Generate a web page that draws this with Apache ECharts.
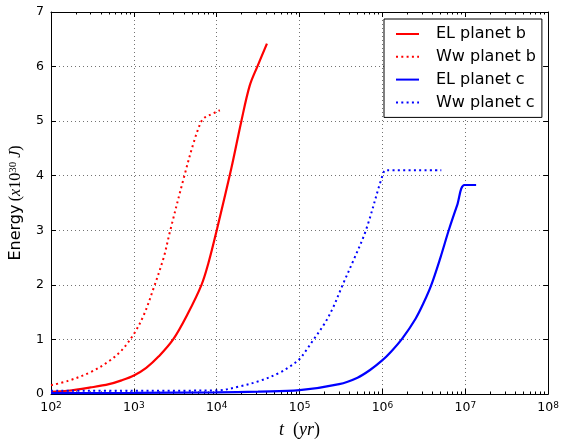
<!DOCTYPE html>
<html><head><meta charset="utf-8">
<script src="https://cdn.jsdelivr.net/npm/echarts@6/dist/echarts.min.js"></script>
<style>html,body{margin:0;padding:0;background:#fff}#c{width:562px;height:444px}</style>
</head><body><div id="c"></div>
<script>
// ---- data ----
const seriesNames = ['EL planet b', 'Ww planet b', 'EL planet c', 'Ww planet c'];

const elB_t = [100, 160, 300, 500, 710, 1000, 1410, 2000, 2980, 4470, 6550, 7940, 10000, 15030, 19820, 25000, 30900, 40360];
const elB_E = [0.04, 0.06, 0.12, 0.18, 0.25, 0.34, 0.48, 0.69, 1.00, 1.47, 2.00, 2.40, 3.00, 4.14, 5.00, 5.65, 6.00, 6.42];

const wwB_t = [100, 160, 300, 500, 710, 1000, 1320, 1740, 2290, 2750, 4070, 5250, 6310, 6920, 7940, 10900];
const wwB_E = [0.16, 0.24, 0.40, 0.60, 0.80, 1.10, 1.45, 1.95, 2.50, 3.00, 4.00, 4.60, 4.95, 5.05, 5.10, 5.20];

const elC_t = [100, 1000, 10000, 31600, 100000, 300000, 500000, 708000, 1000000, 1260000, 1740000, 2510000, 3160000, 3890000, 5010000, 6310000, 7940000, 9770000, 13500000];
const elC_E = [0.015, 0.02, 0.03, 0.045, 0.07, 0.18, 0.30, 0.44, 0.62, 0.77, 1.02, 1.38, 1.68, 2.00, 2.50, 3.00, 3.45, 3.83, 3.83];

const wwC_t = [100, 1000, 10000, 18900, 33000, 57500, 75900, 100000, 120000, 148000, 200000, 251000, 331000, 447000, 631000, 1000000, 1100000, 5130000];
const wwC_E = [0.06, 0.06, 0.065, 0.14, 0.24, 0.39, 0.50, 0.64, 0.80, 1.00, 1.29, 1.57, 2.00, 2.45, 3.00, 4.00, 4.10, 4.10];

const xMin = 100, xMax = 1e8;
const xTickExponents = ['2', '3', '4', '5', '6', '7', '8'];
const yMin = 0, yMax = 7;
const minorBases = [2, 3, 4, 5, 6, 7, 8, 9];
const decades = [1e2, 1e3, 1e4, 1e5, 1e6, 1e7];

// ---- build ----
const zip = (t, e) => t.map((v, i) => [v, e[i]]);
const minorTicks = [];
decades.forEach(d => minorBases.forEach(k => minorTicks.push(k * d)));

const RED = '#ff0000', BLUE = '#0000ff';
const dotted = [2, 3.3];

function mkSeries(name, data, color, dash) {
  return {
    name, type: 'line', data, xAxisIndex: 0, yAxisIndex: 0,
    symbol: 'none', smooth: 0.35,
    lineStyle: { color, width: dash ? 2 : 2.2, type: dash ? dotted : 'solid', cap: 'butt' },
    itemStyle: { color },
    emphasis: { disabled: true }, animation: false
  };
}

const axisCol = '#000';
const baseX = { type: 'log', logBase: 10, min: xMin, max: xMax, interval: 1 };

const chart = echarts.init(document.getElementById('c'), null, { renderer: 'canvas' });
chart.setOption({
  animation: false,
  backgroundColor: '#fff',
  grid: { left: 51, right: 13, top: 12, bottom: 46, show: false },
  legend: {
    data: seriesNames,
    orient: 'vertical',
    left: 384, top: 19,
    padding: [7, 6, 7, 11],
    itemWidth: 23, itemHeight: 14, itemGap: 6.8,
    itemStyle: { opacity: 0 },
    backgroundColor: '#fff', borderColor: '#000', borderWidth: 1, borderRadius: 0,
    textStyle: { fontFamily: 'DejaVu Sans', fontSize: 16, color: '#000', padding: [0, 0, 0, 12] },
    selectedMode: false
  },
  xAxis: [
    Object.assign({}, baseX, {
      position: 'bottom',
      name: '{i|t}{m|  (}{i|yr}{m|)}',
      nameLocation: 'middle', nameGap: 27,
      nameTextStyle: {
        rich: {
          i: { fontFamily: 'Liberation Serif', fontStyle: 'italic', fontSize: 18, color: '#000' },
          m: { fontFamily: 'Liberation Serif', fontSize: 18, color: '#000' }
        }
      },
      axisLine: { show: true, lineStyle: { color: axisCol, width: 1 } },
      axisTick: { show: true, inside: true, length: 5, lineStyle: { color: axisCol, width: 1 } },
      axisLabel: {
        margin: 7,
        formatter: function (v) {
          const idx = Math.round(Math.log10(v)) - 2;
          return '{b|10}{s|' + xTickExponents[idx] + '}';
        },
        rich: {
          b: { fontFamily: 'DejaVu Sans', fontSize: 12.5, color: '#000' },
          s: { fontFamily: 'DejaVu Sans', fontSize: 9, color: '#000', verticalAlign: 'top' }
        }
      },
      splitLine: { show: true, lineStyle: { color: '#000', opacity: 0.55, width: 1, type: [1, 3] } }
    }),
    Object.assign({}, baseX, {
      position: 'bottom',
      axisLine: { show: false },
      axisTick: { show: true, inside: true, length: 2.5, customValues: minorTicks, lineStyle: { color: axisCol, width: 1 } },
      axisLabel: { show: false },
      splitLine: { show: false }
    }),
    Object.assign({}, baseX, {
      position: 'top',
      axisLine: { show: true, onZero: false, lineStyle: { color: axisCol, width: 1 } },
      axisTick: { show: true, inside: true, length: 5, lineStyle: { color: axisCol, width: 1 } },
      axisLabel: { show: false },
      splitLine: { show: false }
    }),
    Object.assign({}, baseX, {
      position: 'top',
      axisLine: { show: false },
      axisTick: { show: true, inside: true, length: 2.5, customValues: minorTicks, lineStyle: { color: axisCol, width: 1 } },
      axisLabel: { show: false },
      splitLine: { show: false }
    })
  ],
  yAxis: [
    {
      type: 'value', min: yMin, max: yMax, interval: 1, position: 'left',
      name: '{a|Energy} {m|(}{i|x}{m|10}{s|30}{m| }{i|J}{m|)}',
      nameLocation: 'middle', nameGap: 27,
      nameTextStyle: {
        rich: {
          a: { fontFamily: 'DejaVu Sans', fontSize: 16, color: '#000' },
          m: { fontFamily: 'Liberation Serif', fontSize: 16, color: '#000' },
          i: { fontFamily: 'Liberation Serif', fontStyle: 'italic', fontSize: 16, color: '#000' },
          s: { fontFamily: 'Liberation Serif', fontSize: 11, color: '#000', verticalAlign: 'top' }
        }
      },
      axisLine: { show: true, onZero: false, lineStyle: { color: axisCol, width: 1 } },
      axisTick: { show: true, inside: true, length: 5, lineStyle: { color: axisCol, width: 1 } },
      axisLabel: { margin: 7, fontFamily: 'DejaVu Sans', fontSize: 12.5, color: '#000' },
      splitLine: { show: true, lineStyle: { color: '#000', opacity: 0.55, width: 1, type: [1, 3] } }
    },
    {
      type: 'value', min: yMin, max: yMax, interval: 1, position: 'right',
      axisLine: { show: true, onZero: false, lineStyle: { color: axisCol, width: 1 } },
      axisTick: { show: true, inside: true, length: 5, lineStyle: { color: axisCol, width: 1 } },
      axisLabel: { show: false },
      splitLine: { show: false }
    }
  ],
  series: [
    mkSeries(seriesNames[0], zip(elB_t, elB_E), RED, false),
    mkSeries(seriesNames[1], zip(wwB_t, wwB_E), RED, true),
    mkSeries(seriesNames[2], zip(elC_t, elC_E), BLUE, false),
    mkSeries(seriesNames[3], zip(wwC_t, wwC_E), BLUE, true)
  ]
});
</script>
</body></html>
